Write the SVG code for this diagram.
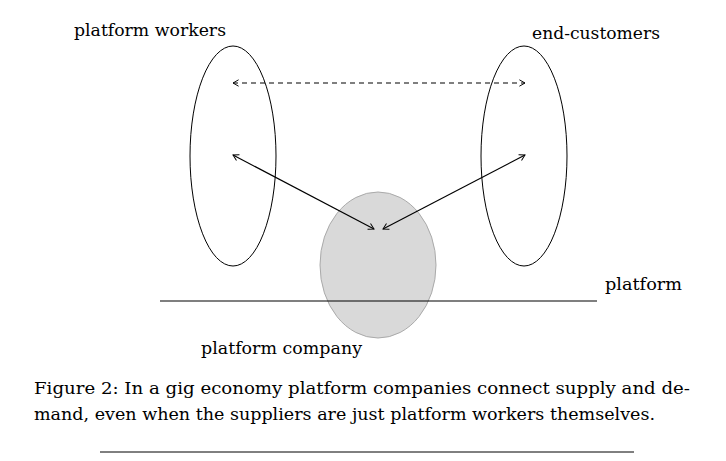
<svg xmlns="http://www.w3.org/2000/svg" width="726" height="461" viewBox="0 0 726 461">
<style>
text{font-family:"DejaVu Serif","Liberation Serif",serif;font-size:16px;fill:#000}
.ell{fill:none;stroke:#000;stroke-width:1}
.conn{fill:none;stroke:#000;stroke-width:1.2}
</style>
<defs>
<marker id="ah" viewBox="0 0 10 10" refX="9" refY="5" markerWidth="8" markerHeight="8" orient="auto-start-reverse" markerUnits="userSpaceOnUse">
<path d="M2,1 L9,5 L2,9" fill="none" stroke="#000" stroke-width="1.2"/>
</marker>
</defs>
<rect width="726" height="461" fill="#fff"/>
<g id="company">
<ellipse cx="378" cy="265" rx="58" ry="73" fill="#d9d9d9" stroke="#aaa" stroke-width="1"/>
<text x="201" y="354" textLength="161" lengthAdjust="spacingAndGlyphs">platform company</text>
</g>
<g id="platform">
<line x1="160" y1="301" x2="597" y2="301" stroke="#000" stroke-width="1.2"/>
<text x="605" y="290" textLength="77" lengthAdjust="spacingAndGlyphs">platform</text>
</g>
<g id="workers">
<ellipse class="ell" cx="233" cy="156" rx="43" ry="110"/>
<text x="74" y="36" textLength="152" lengthAdjust="spacingAndGlyphs">platform workers</text>
</g>
<g id="customers">
<ellipse class="ell" cx="524" cy="156" rx="43" ry="110"/>
<text x="532" y="39" textLength="128" lengthAdjust="spacingAndGlyphs">end-customers</text>
</g>
<g id="connectors">
<line class="conn" x1="233" y1="83" x2="525" y2="83" stroke-dasharray="5,4" marker-start="url(#ah)" marker-end="url(#ah)"/>
<line class="conn" x1="233" y1="155" x2="374" y2="229" marker-start="url(#ah)" marker-end="url(#ah)"/>
<line class="conn" x1="525" y1="155" x2="383" y2="229" marker-start="url(#ah)" marker-end="url(#ah)"/>
</g>
<g id="caption">
<text x="34" y="394" textLength="656" lengthAdjust="spacingAndGlyphs">Figure 2: In a gig economy platform companies connect supply and de-</text>
<text x="34" y="420" textLength="621" lengthAdjust="spacingAndGlyphs">mand, even when the suppliers are just platform workers themselves.</text>
<line x1="100" y1="452" x2="634" y2="452" stroke="#000" stroke-width="1"/>
</g>
</svg>
